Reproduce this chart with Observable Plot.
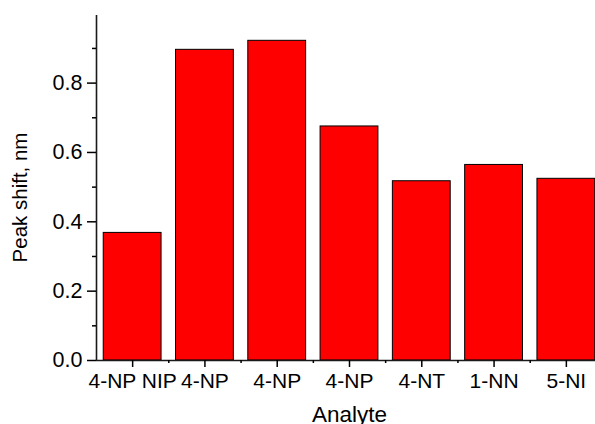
<!DOCTYPE html>
<html><head><meta charset="utf-8">
<script src="https://cdn.jsdelivr.net/npm/d3@7"></script>
<script src="https://cdn.jsdelivr.net/npm/@observablehq/plot@0.6"></script>
<style>body{margin:0;background:#fff}</style>
</head><body><div id="chart"></div>
<script>
const categories = ["4-NP NIP", "4-NP", "4-NP", "4-NP", "4-NT", "1-NN", "5-NI"];
const peakShift = [0.368, 0.896, 0.922, 0.675, 0.517, 0.564, 0.524];
const yMajorTicks = [0, 0.2, 0.4, 0.6, 0.8];
const yMinorTicks = [0.1, 0.3, 0.5, 0.7, 0.9];
const xLabel = "Analyte";
const yLabel = "Peak shift, nm";

const data = categories.map((c, i) => ({i, c, v: peakShift[i]}));
const idx = categories.map((_, i) => i);
const xMinor = idx.slice(1).map(i => i - 0.5);

const font = "'Liberation Sans', Arial, Helvetica, sans-serif";
const plot = Plot.plot({
  width: 595, height: 424,
  marginTop: 15, marginBottom: 64, marginLeft: 96, marginRight: -7,
  style: {fontFamily: font, fontSize: "21px", color: "#000", background: "#fff"},
  x: {domain: [-0.5, 6.5], range: [96, 602], axis: null},
  y: {domain: [0, 0.995], axis: null},
  marks: [
    Plot.rectY(data, {x1: d => d.i - 0.4, x2: d => d.i + 0.4, y1: 0, y2: "v", fill: "#ff0000", stroke: "#000", strokeWidth: 1}),
    Plot.ruleY([0], {stroke: "#1a1a1a", strokeWidth: 1.6}),
    Plot.ruleX([-0.5], {stroke: "#1a1a1a", strokeWidth: 1.6}),
    Plot.axisY({ticks: yMajorTicks, tickSize: 9, tickPadding: 5, tickFormat: d3.format(".1f"), label: null, strokeWidth: 1.5, fontSize: 21.5}),
    Plot.axisY({ticks: yMinorTicks, tickSize: 4, tickFormat: () => "", label: null, strokeWidth: 1.5}),
    Plot.axisX({ticks: idx, tickSize: 7, tickPadding: 6, tickFormat: i => categories[i], label: null, strokeWidth: 1.5, fontSize: 21}),
    Plot.axisX({ticks: xMinor, tickSize: 3, tickFormat: () => "", label: null, strokeWidth: 1.5}),
    Plot.text([xLabel], {text: d => d, frameAnchor: "bottom", textAnchor: "middle", lineAnchor: "top", dy: 46, fontSize: 22.5}),
    Plot.text([yLabel], {text: d => d, frameAnchor: "left", rotate: -90, textAnchor: "middle", lineAnchor: "top", dx: -84, dy: 9.5, fontSize: 20.5})
  ]
});
document.getElementById("chart").appendChild(plot);
</script>
</body></html>
